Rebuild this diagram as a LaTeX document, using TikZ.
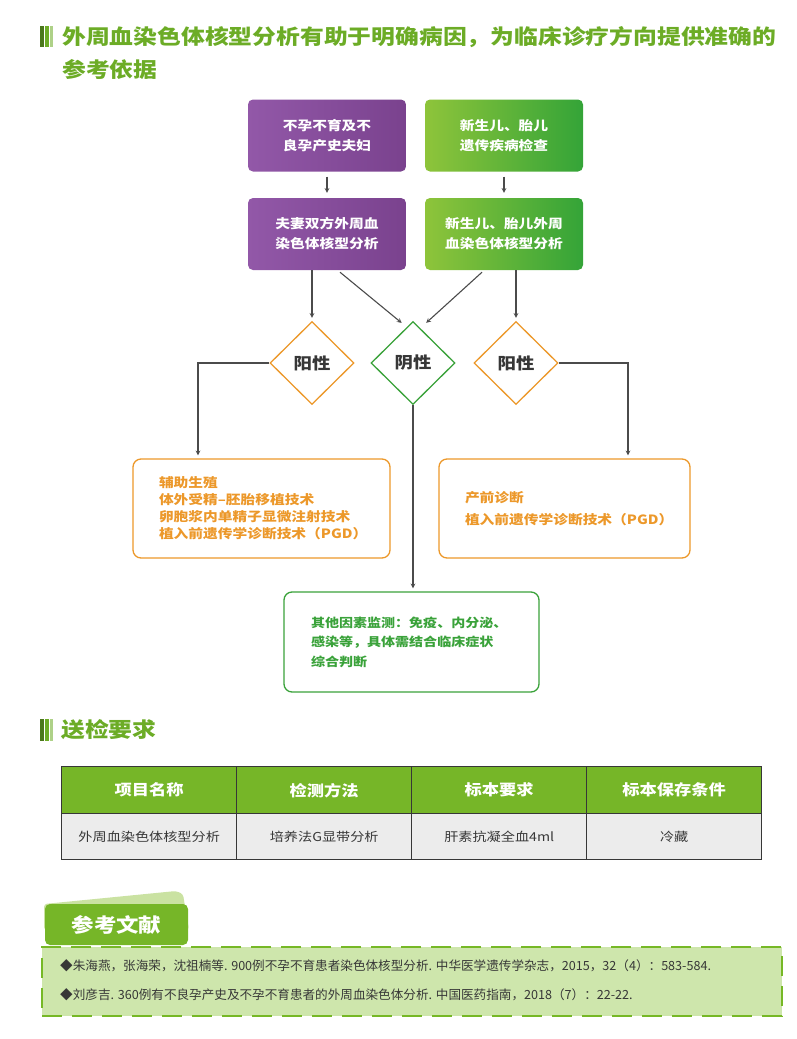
\documentclass[tikz,border=0pt]{standalone}
\usepackage{fontspec}
\setmainfont{Noto Sans CJK SC}
\newfontfamily\widefont{Noto Sans CJK SC}[FakeStretch=1.15]
\usetikzlibrary{shapes.geometric}
\definecolor{titlegreen}{RGB}{108,172,38}
\definecolor{purpleL}{RGB}{146,88,168}
\definecolor{purpleR}{RGB}{122,66,142}
\definecolor{greenL}{RGB}{142,196,58}
\definecolor{greenR}{RGB}{52,164,56}
\definecolor{orangeline}{RGB}{236,152,42}
\definecolor{boxgreen}{RGB}{58,162,58}
\definecolor{arrgray}{RGB}{75,75,75}
\definecolor{darktext}{RGB}{55,55,55}
\definecolor{headgreen}{RGB}{118,182,40}
\definecolor{cellgray}{RGB}{236,236,236}
\definecolor{reffill}{RGB}{206,230,172}
\definecolor{refdash}{RGB}{118,184,38}
\definecolor{tabback}{RGB}{202,226,162}
\begin{document}
\begin{tikzpicture}[x=1pt,y=-1pt,
      box/.style={rounded corners=5pt,minimum width=158pt,minimum height=72pt,
                  align=center,text=white,font=\widefont\bfseries\fontsize{12.8}{20}\selectfont},
      pbox/.style={box,left color=purpleL,right color=purpleR},
      gbox/.style={box,left color=greenL,right color=greenR},
      dia/.style={diamond,draw,line width=1.3pt,fill=white,minimum width=84pt,
                  minimum height=83pt,inner sep=0pt,text=darktext,
                  font=\widefont\bfseries\fontsize{16}{16}\selectfont},
      obox/.style={draw=orangeline,line width=1.3pt,rounded corners=8pt,text=orangeline,
                   align=left,minimum height=99pt,inner xsep=26pt,
                   font=\widefont\bfseries\fontsize{12.8}{17}\selectfont},
      cbox/.style={draw=boxgreen,line width=1.3pt,rounded corners=8pt,text=boxgreen,
                   align=left,minimum height=100pt,inner xsep=27pt,
                   font=\widefont\bfseries\fontsize{12.2}{19.5}\selectfont},
      heading/.style={anchor=west,text=titlegreen,inner sep=0pt,
                      font=\widefont\bfseries\fontsize{20.7}{24}\selectfont},
      thead/.style={draw=darktext,line width=1.4pt,fill=headgreen,text=white,anchor=north west,
                    minimum width=175pt,minimum height=47pt,
                    font=\widefont\bfseries\fontsize{15}{15}\selectfont},
      tcell/.style={draw=darktext,line width=1.4pt,fill=cellgray,text=darktext,anchor=north west,
                    minimum width=175pt,minimum height=46pt,
                    font=\widefont\fontsize{12.3}{13}\selectfont},
      reftext/.style={anchor=west,text=darktext,inner sep=0pt,font=\fontsize{12.6}{13}\selectfont},
      arr/.style={->,>=stealth,draw=arrgray,line width=1.1pt,shorten >=3pt}
    ]
    \useasboundingbox (0,0) rectangle (797,1039);
    % Title with marker
    \fill[titlegreen!70!black] (40,26) rectangle (44,47);
    \fill[titlegreen] (45,26) rectangle (48.5,47);
    \fill[titlegreen!55] (49.5,26) rectangle (53,47);
    \node[heading] (title) at (62,37) {外周血染色体核型分析有助于明确病因，为临床诊疗方向提供准确的};
    \node[heading] (title2) at (62,69) {参考依据};
    % Patient groups
    \node[pbox] (couple) at (327,135.5) {不孕不育及不\\良孕产史夫妇};
    \node[gbox] (baby) at (504,135.5) {新生儿、胎儿\\遗传疾病检查};
    \node[pbox] (cpl) at (327,234) {夫妻双方外周血\\染色体核型分析};
    \node[gbox] (bbk) at (504,234) {新生儿、胎儿外周\\血染色体核型分析};
    % Results
    \node[dia, draw=orangeline] (posl) at (312,363) {阳性};
    \node[dia, draw=boxgreen] (neg) at (413,363) {阴性};
    \node[dia, draw=orangeline] (posr) at (516,363) {阳性};
    % Follow-up
    \node[obox, text width=205pt] (assist) at (261.5,508.5)
      {辅助生殖\\体外受精–胚胎移植技术\\卵胞浆内单精子显微注射技术\\植入前遗传学诊断技术（PGD）};
    \node[obox, text width=199pt] (prenat) at (564.5,508.5)
      {产前诊断\\[5pt]植入前遗传学诊断技术（PGD）};
    \node[cbox, text width=201pt] (other) at (411.5,642)
      {其他因素监测：免疫、内分泌、\\感染等，具体需结合临床症状\\综合判断};
    % Arrows
    \draw[arr, shorten <=5pt, shorten >=5pt] (couple) -- (cpl);
    \draw[arr, shorten <=5pt, shorten >=5pt] (baby) -- (bbk);
    \draw[arr] (cpl.south -| posl) -- (posl.north);
    \draw[arr] ([xshift=13pt,yshift=-2pt]cpl.south) -- ([xshift=-9pt,yshift=-4pt]neg.north);
    \draw[arr] ([xshift=-22pt,yshift=-2pt]bbk.south) -- ([xshift=11pt,yshift=-4pt]neg.north);
    \draw[arr] (bbk.south -| posr) -- (posr.north);
    \draw[arr] (posl.west) -| ([xshift=-63.5pt]assist.north);
    \draw[arr] (posr.east) -| ([xshift=63.5pt]prenat.north);
    \draw[arr] (neg.south) -- (neg.south |- other.north);
    % Submission requirements
    \fill[titlegreen!70!black] (40,719) rectangle (44,741);
    \fill[titlegreen] (45,719) rectangle (48.5,741);
    \fill[titlegreen!55] (49.5,719) rectangle (53,741);
    \node[heading] (req) at (61,730) {送检要求};
    \foreach \x/\h/\b [count=\i] in {61/项目名称/外周血染色体核型分析,
        236/检测方法/培养法G显带分析, 411/标本要求/肝素抗凝全血4ml, 586/标本保存条件/冷藏}{
      \node[thead] (head\i) at (\x,766) {\h};
      \node[tcell] (cell\i) at (\x,813) {\b};
    }
    % References
    \node[draw=refdash,fill=reffill,line width=2pt,dash pattern=on 20pt off 10pt,
          anchor=north west,minimum width=740pt,minimum height=69pt] (refs) at (41,946) {};
    \fill[tabback,rounded corners=3pt] (44,930) -- (44,904) -- (176,891) -- (183,894)
      -- (189,930) -- cycle;
    \node[fill=headgreen,rounded corners=5pt,minimum width=143pt,minimum height=41pt,
          text=white,font=\widefont\bfseries\fontsize{19.5}{20}\selectfont] (reftab)
      at (116.5,924.5) {参考文献};
    \node[reftext] (ref1) at (60,966)
      {◆朱海燕，张海荣，沈祖楠等. 900例不孕不育患者染色体核型分析. 中华医学遗传学杂志，2015，32（4）：583-584.};
    \node[reftext] (ref2) at (60,995)
      {◆刘彦吉. 360例有不良孕产史及不孕不育患者的外周血染色体分析. 中国医药指南，2018（7）：22-22.};
  \end{tikzpicture}
\end{document}
